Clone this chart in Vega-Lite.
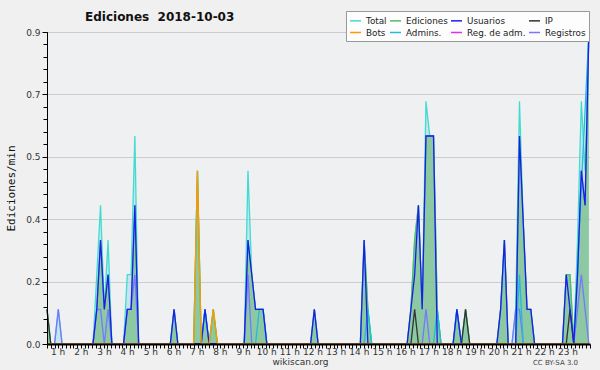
{
  "$schema": "https://vega.github.io/schema/vega-lite/v6.json",
  "width": 543,
  "height": 312,
  "autosize": "none",
  "padding": {"left": 47, "top": 32, "right": 10, "bottom": 26},
  "background": "#f0f0f0",
  "config": {"view": {"stroke": null, "fill": "#eef0f2"}},
  "title": {"text": "Ediciones\u00a0 2018-10-03", "anchor": "start", "frame": "group", "dx": 38, "offset": -13, "font": "DejaVu Sans", "fontSize": 12, "fontWeight": "bold", "color": "#111111"},
  "data": {"values": [
    {"t":0,"Total":0.1,"Ediciones":0.1,"Usuarios":0,"IP":0.1,"Bots":0,"Admins":0,"RegAdm":0,"Registros":0},
    {"t":10,"Total":0,"Ediciones":0,"Usuarios":0,"IP":0,"Bots":0,"Admins":0,"RegAdm":0,"Registros":0},
    {"t":20,"Total":0,"Ediciones":0,"Usuarios":0,"IP":0,"Bots":0,"Admins":0,"RegAdm":0,"Registros":0},
    {"t":30,"Total":0.1,"Ediciones":0,"Usuarios":0,"IP":0,"Bots":0,"Admins":0,"RegAdm":0,"Registros":0.1},
    {"t":40,"Total":0,"Ediciones":0,"Usuarios":0,"IP":0,"Bots":0,"Admins":0,"RegAdm":0,"Registros":0},
    {"t":122,"Total":0,"Ediciones":0,"Usuarios":0,"IP":0,"Bots":0,"Admins":0,"RegAdm":0,"Registros":0},
    {"t":132,"Total":0.2,"Ediciones":0.1,"Usuarios":0.1,"IP":0,"Bots":0,"Admins":0,"RegAdm":0,"Registros":0.1},
    {"t":142,"Total":0.4,"Ediciones":0.3,"Usuarios":0.3,"IP":0,"Bots":0,"Admins":0,"RegAdm":0,"Registros":0.1},
    {"t":152,"Total":0.1,"Ediciones":0.1,"Usuarios":0.1,"IP":0,"Bots":0,"Admins":0,"RegAdm":0,"Registros":0},
    {"t":162,"Total":0.3,"Ediciones":0.2,"Usuarios":0.2,"IP":0,"Bots":0,"Admins":0,"RegAdm":0,"Registros":0.1},
    {"t":172,"Total":0,"Ediciones":0,"Usuarios":0,"IP":0,"Bots":0,"Admins":0,"RegAdm":0,"Registros":0},
    {"t":203,"Total":0,"Ediciones":0,"Usuarios":0,"IP":0,"Bots":0,"Admins":0,"RegAdm":0,"Registros":0},
    {"t":213,"Total":0.2,"Ediciones":0.1,"Usuarios":0.1,"IP":0,"Bots":0,"Admins":0,"RegAdm":0,"Registros":0.1},
    {"t":223,"Total":0.2,"Ediciones":0.1,"Usuarios":0.1,"IP":0,"Bots":0,"Admins":0,"RegAdm":0,"Registros":0.1},
    {"t":233,"Total":0.6,"Ediciones":0.4,"Usuarios":0.4,"IP":0,"Bots":0,"Admins":0,"RegAdm":0,"Registros":0.2},
    {"t":243,"Total":0,"Ediciones":0,"Usuarios":0,"IP":0,"Bots":0,"Admins":0,"RegAdm":0,"Registros":0},
    {"t":327,"Total":0,"Ediciones":0,"Usuarios":0,"IP":0,"Bots":0,"Admins":0,"RegAdm":0,"Registros":0},
    {"t":337,"Total":0.1,"Ediciones":0.1,"Usuarios":0.1,"IP":0,"Bots":0,"Admins":0,"RegAdm":0,"Registros":0},
    {"t":347,"Total":0,"Ediciones":0,"Usuarios":0,"IP":0,"Bots":0,"Admins":0,"RegAdm":0,"Registros":0},
    {"t":389,"Total":0,"Ediciones":0,"Usuarios":0,"IP":0,"Bots":0,"Admins":0,"RegAdm":0,"Registros":0},
    {"t":399,"Total":0.5,"Ediciones":0.5,"Usuarios":0,"IP":0,"Bots":0.5,"Admins":0,"RegAdm":0,"Registros":0},
    {"t":409,"Total":0,"Ediciones":0,"Usuarios":0,"IP":0,"Bots":0,"Admins":0,"RegAdm":0,"Registros":0},
    {"t":419,"Total":0.1,"Ediciones":0.1,"Usuarios":0.1,"IP":0,"Bots":0,"Admins":0.1,"RegAdm":0,"Registros":0},
    {"t":430,"Total":0,"Ediciones":0,"Usuarios":0,"IP":0,"Bots":0,"Admins":0,"RegAdm":0,"Registros":0},
    {"t":441,"Total":0.1,"Ediciones":0.1,"Usuarios":0,"IP":0,"Bots":0.1,"Admins":0,"RegAdm":0,"Registros":0},
    {"t":452,"Total":0,"Ediciones":0,"Usuarios":0,"IP":0,"Bots":0,"Admins":0,"RegAdm":0,"Registros":0},
    {"t":523,"Total":0,"Ediciones":0,"Usuarios":0,"IP":0,"Bots":0,"Admins":0,"RegAdm":0,"Registros":0},
    {"t":533,"Total":0.5,"Ediciones":0.3,"Usuarios":0.3,"IP":0,"Bots":0,"Admins":0,"RegAdm":0,"Registros":0.2},
    {"t":543,"Total":0.2,"Ediciones":0.2,"Usuarios":0.2,"IP":0,"Bots":0,"Admins":0,"RegAdm":0,"Registros":0},
    {"t":553,"Total":0.1,"Ediciones":0.1,"Usuarios":0.1,"IP":0,"Bots":0,"Admins":0,"RegAdm":0,"Registros":0},
    {"t":563,"Total":0.1,"Ediciones":0.1,"Usuarios":0.1,"IP":0,"Bots":0,"Admins":0.1,"RegAdm":0,"Registros":0},
    {"t":573,"Total":0.1,"Ediciones":0.1,"Usuarios":0.1,"IP":0,"Bots":0,"Admins":0.1,"RegAdm":0,"Registros":0},
    {"t":583,"Total":0,"Ediciones":0,"Usuarios":0,"IP":0,"Bots":0,"Admins":0,"RegAdm":0,"Registros":0},
    {"t":699,"Total":0,"Ediciones":0,"Usuarios":0,"IP":0,"Bots":0,"Admins":0,"RegAdm":0,"Registros":0},
    {"t":709,"Total":0.1,"Ediciones":0.1,"Usuarios":0.1,"IP":0,"Bots":0,"Admins":0,"RegAdm":0,"Registros":0},
    {"t":719,"Total":0,"Ediciones":0,"Usuarios":0,"IP":0,"Bots":0,"Admins":0,"RegAdm":0,"Registros":0},
    {"t":831,"Total":0,"Ediciones":0,"Usuarios":0,"IP":0,"Bots":0,"Admins":0,"RegAdm":0,"Registros":0},
    {"t":841,"Total":0.3,"Ediciones":0.3,"Usuarios":0.3,"IP":0,"Bots":0,"Admins":0,"RegAdm":0,"Registros":0},
    {"t":851,"Total":0.1,"Ediciones":0.1,"Usuarios":0,"IP":0,"Bots":0,"Admins":0.1,"RegAdm":0,"Registros":0},
    {"t":861,"Total":0,"Ediciones":0,"Usuarios":0,"IP":0,"Bots":0,"Admins":0,"RegAdm":0,"Registros":0},
    {"t":955,"Total":0,"Ediciones":0,"Usuarios":0,"IP":0,"Bots":0,"Admins":0,"RegAdm":0,"Registros":0},
    {"t":965,"Total":0.1,"Ediciones":0.1,"Usuarios":0.1,"IP":0,"Bots":0,"Admins":0,"RegAdm":0,"Registros":0},
    {"t":975,"Total":0.3,"Ediciones":0.3,"Usuarios":0.2,"IP":0.1,"Bots":0,"Admins":0,"RegAdm":0,"Registros":0},
    {"t":985,"Total":0.4,"Ediciones":0.4,"Usuarios":0.4,"IP":0,"Bots":0,"Admins":0,"RegAdm":0,"Registros":0},
    {"t":995,"Total":0.1,"Ediciones":0.1,"Usuarios":0.1,"IP":0,"Bots":0,"Admins":0,"RegAdm":0,"Registros":0},
    {"t":1005,"Total":0.7,"Ediciones":0.6,"Usuarios":0.6,"IP":0,"Bots":0,"Admins":0,"RegAdm":0,"Registros":0.1},
    {"t":1015,"Total":0.6,"Ediciones":0.6,"Usuarios":0.6,"IP":0,"Bots":0,"Admins":0,"RegAdm":0,"Registros":0},
    {"t":1025,"Total":0.6,"Ediciones":0.6,"Usuarios":0.6,"IP":0,"Bots":0,"Admins":0,"RegAdm":0,"Registros":0},
    {"t":1035,"Total":0.1,"Ediciones":0.1,"Usuarios":0,"IP":0,"Bots":0,"Admins":0.1,"RegAdm":0,"Registros":0},
    {"t":1045,"Total":0,"Ediciones":0,"Usuarios":0,"IP":0,"Bots":0,"Admins":0,"RegAdm":0,"Registros":0},
    {"t":1077,"Total":0,"Ediciones":0,"Usuarios":0,"IP":0,"Bots":0,"Admins":0,"RegAdm":0,"Registros":0},
    {"t":1087,"Total":0.1,"Ediciones":0.1,"Usuarios":0.1,"IP":0,"Bots":0,"Admins":0.1,"RegAdm":0,"Registros":0},
    {"t":1099,"Total":0,"Ediciones":0,"Usuarios":0,"IP":0,"Bots":0,"Admins":0,"RegAdm":0,"Registros":0},
    {"t":1110,"Total":0.1,"Ediciones":0.1,"Usuarios":0,"IP":0.1,"Bots":0,"Admins":0,"RegAdm":0,"Registros":0},
    {"t":1121,"Total":0,"Ediciones":0,"Usuarios":0,"IP":0,"Bots":0,"Admins":0,"RegAdm":0,"Registros":0},
    {"t":1193,"Total":0,"Ediciones":0,"Usuarios":0,"IP":0,"Bots":0,"Admins":0,"RegAdm":0,"Registros":0},
    {"t":1203,"Total":0.1,"Ediciones":0.1,"Usuarios":0.1,"IP":0,"Bots":0,"Admins":0,"RegAdm":0,"Registros":0},
    {"t":1213,"Total":0.3,"Ediciones":0.3,"Usuarios":0.3,"IP":0,"Bots":0,"Admins":0,"RegAdm":0,"Registros":0},
    {"t":1223,"Total":0,"Ediciones":0,"Usuarios":0,"IP":0,"Bots":0,"Admins":0,"RegAdm":0,"Registros":0},
    {"t":1233,"Total":0,"Ediciones":0,"Usuarios":0,"IP":0,"Bots":0,"Admins":0,"RegAdm":0,"Registros":0},
    {"t":1243,"Total":0.1,"Ediciones":0,"Usuarios":0,"IP":0,"Bots":0,"Admins":0,"RegAdm":0,"Registros":0.1},
    {"t":1253,"Total":0.7,"Ediciones":0.6,"Usuarios":0.6,"IP":0,"Bots":0,"Admins":0.2,"RegAdm":0,"Registros":0.1},
    {"t":1263,"Total":0.35,"Ediciones":0.35,"Usuarios":0.35,"IP":0,"Bots":0,"Admins":0,"RegAdm":0,"Registros":0},
    {"t":1273,"Total":0.1,"Ediciones":0.1,"Usuarios":0.1,"IP":0,"Bots":0,"Admins":0,"RegAdm":0,"Registros":0},
    {"t":1283,"Total":0.1,"Ediciones":0.1,"Usuarios":0.1,"IP":0,"Bots":0,"Admins":0,"RegAdm":0,"Registros":0},
    {"t":1293,"Total":0,"Ediciones":0,"Usuarios":0,"IP":0,"Bots":0,"Admins":0,"RegAdm":0,"Registros":0},
    {"t":1367,"Total":0,"Ediciones":0,"Usuarios":0,"IP":0,"Bots":0,"Admins":0,"RegAdm":0,"Registros":0},
    {"t":1377,"Total":0.2,"Ediciones":0.2,"Usuarios":0.2,"IP":0,"Bots":0,"Admins":0,"RegAdm":0,"Registros":0},
    {"t":1387,"Total":0.2,"Ediciones":0.2,"Usuarios":0.1,"IP":0.1,"Bots":0,"Admins":0,"RegAdm":0,"Registros":0},
    {"t":1397,"Total":0,"Ediciones":0,"Usuarios":0,"IP":0,"Bots":0,"Admins":0,"RegAdm":0,"Registros":0},
    {"t":1407,"Total":0.3,"Ediciones":0.2,"Usuarios":0.2,"IP":0,"Bots":0,"Admins":null,"RegAdm":0,"Registros":0.1},
    {"t":1417,"Total":0.7,"Ediciones":0.5,"Usuarios":0.5,"IP":0,"Bots":0,"Admins":null,"RegAdm":0,"Registros":0.2},
    {"t":1427,"Total":0.5,"Ediciones":0.4,"Usuarios":0.4,"IP":0,"Bots":0,"Admins":null,"RegAdm":0,"Registros":0.1},
    {"t":1437,"Total":0.9,"Ediciones":0.9,"Usuarios":0.9,"IP":0,"Bots":0,"Admins":0.9,"RegAdm":0,"Registros":0}
  ]},
  "transform": [{"fold": ["Total", "Ediciones", "Registros", "RegAdm", "Admins", "IP", "Usuarios", "Bots"], "as": ["serie", "v"]}],
  "layer": [
    {
      "transform": [{"filter": "datum.serie == 'Total'"}],
      "mark": {"type": "area", "color": "#9fd8ec", "opacity": 0.5},
      "encoding": {
        "x": {"field": "t", "type": "quantitative", "scale": {"domain": [0, 1440], "nice": false},
          "axis": {"orient": "bottom", "tickCount": 144, "labels": false, "grid": false, "domain": true, "domainColor": "#000000", "domainWidth": 2, "tickColor": "#000000", "tickSize": 4, "tickWidth": 1, "zindex": 2,
            "title": "CC BY-SA 3.0", "titleFont": "DejaVu Sans", "titleFontSize": 7, "titleFontWeight": "normal", "titleColor": "#444444", "titleX": 508, "titleY": 18, "titleBaseline": "middle"}},
        "y": {"field": "v", "type": "quantitative", "scale": {"domain": [0, 0.9], "nice": false},
          "axis": {"orient": "left", "values": [0, 0.036, 0.072, 0.108, 0.144, 0.18, 0.216, 0.252, 0.288, 0.324, 0.36, 0.396, 0.432, 0.468, 0.504, 0.54, 0.576, 0.612, 0.648, 0.684, 0.72, 0.756, 0.792, 0.828, 0.864, 0.9],
            "labels": false, "grid": false, "domain": true, "domainColor": "#000000", "domainWidth": 1, "tickColor": "#000000", "tickSize": 4, "title": null, "zindex": 2}}
      }
    },
    {
      "transform": [{"filter": "datum.serie == 'Ediciones'"}],
      "mark": {"type": "area", "color": "#78c088", "opacity": 0.75},
      "encoding": {
        "x": {"field": "t", "type": "quantitative", "scale": {"domain": [0, 1440], "nice": false},
          "axis": {"orient": "bottom", "values": [28.25, 89.7, 151.15, 212.6, 274.05, 335.5, 396.95, 458.4, 519.85, 581.3, 642.75, 704.2, 765.65, 827.1, 888.55, 950.0, 1011.45, 1072.9, 1134.35, 1195.8, 1257.25, 1318.7, 1380.15],
            "labelExpr": "round((datum.value + 33.2) / 61.45) + ' h'", "ticks": false, "domain": false, "grid": false, "labelFont": "DejaVu Sans", "labelFontSize": 9, "labelColor": "#333333", "labelPadding": 3,
            "title": "wikiscan.org", "titleFont": "DejaVu Sans", "titleFontSize": 9, "titleFontWeight": "normal", "titleColor": "#333333", "titleX": 253, "titleY": 17, "titleBaseline": "middle", "zindex": 2}},
        "y": {"field": "v", "type": "quantitative", "scale": {"domain": [0, 0.9], "nice": false},
          "axis": {"orient": "left", "values": [0, 0.18, 0.36, 0.54, 0.72, 0.9], "format": ".1f", "grid": true, "gridColor": "#cccccc", "gridWidth": 1, "domain": false, "tickColor": "#000000", "tickSize": 5,
            "labelFont": "DejaVu Sans", "labelFontSize": 9, "labelColor": "#333333", "labelPadding": 2,
            "title": "Ediciones/min", "titleFont": "DejaVu Sans Mono", "titleFontSize": 11, "titleFontWeight": "normal", "titleColor": "#111111", "titlePadding": 9, "zindex": 0}}
      }
    },
    {
      "mark": {"type": "line", "strokeWidth": 1.3, "invalid": "filter"},
      "encoding": {
        "x": {"field": "t", "type": "quantitative", "scale": {"domain": [0, 1440], "nice": false}, "axis": null},
        "y": {"field": "v", "type": "quantitative", "scale": {"domain": [0, 0.9], "nice": false}, "axis": null},
        "color": {"field": "serie", "type": "nominal",
          "scale": {"domain": ["Total", "Ediciones", "Usuarios", "IP", "Bots", "Admins", "RegAdm", "Registros"],
            "range": ["#40dcd0", "#55bb66", "#1c1cf0", "#333333", "#ff9900", "#22bbdd", "#dd33ee", "#7777ff"]},
          "legend": {"orient": "none", "legendX": 299, "legendY": -21, "direction": "horizontal", "columns": 4, "gridAlign": "each", "title": null,
            "fillColor": "#fdfdfd", "strokeColor": "#999999", "padding": 3, "symbolType": "stroke", "symbolSize": 121, "symbolStrokeWidth": 1.5,
            "labelFont": "DejaVu Sans", "labelFontSize": 8.8, "labelColor": "#222222", "labelOffset": 4, "rowPadding": -1, "columnPadding": 0,
            "labelExpr": "datum.label == 'Admins' ? 'Admins.' : datum.label == 'RegAdm' ? 'Reg. de adm.' : datum.label"}}
      }
    }
  ],
  "resolve": {"axis": {"x": "independent", "y": "independent"}}
}
